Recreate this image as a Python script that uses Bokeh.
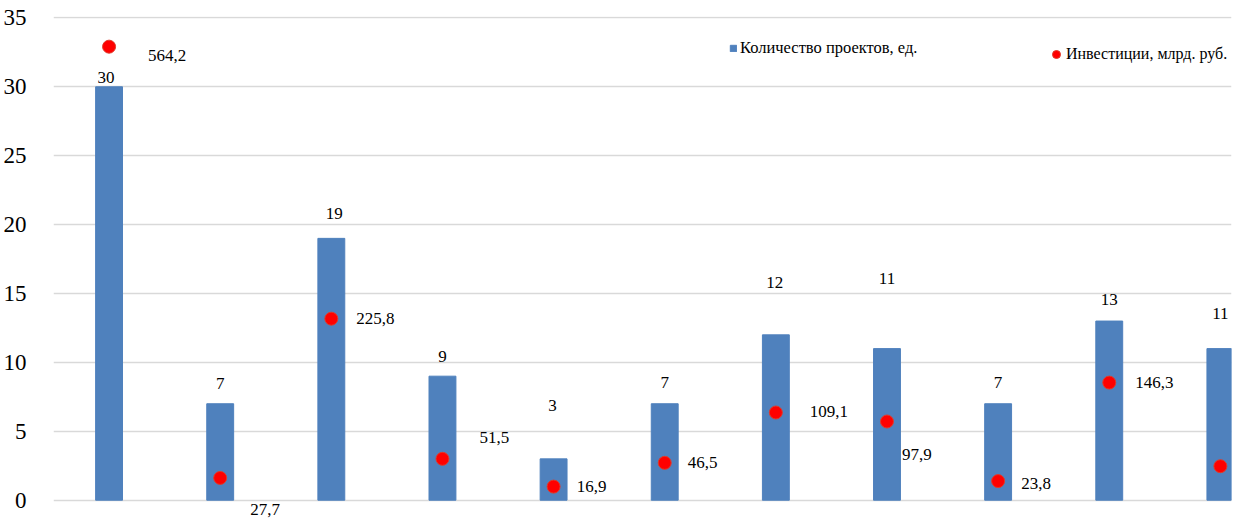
from bokeh.plotting import figure
from bokeh.models import (ColumnDataSource, Range1d, FixedTicker,
                          LabelSet, Legend, LegendItem)
from bokeh.embed import file_html
from bokeh.resources import INLINE

# ---- data ----
positions = list(range(11))
projects = [30, 7, 19, 9, 3, 7, 12, 11, 7, 13, 11]
investments = [564.2, 27.7, 225.8, 51.5, 16.9, 46.5, 109.1, 97.9, 23.8, 146.3, 42.3]
y_ticks = [0, 5, 10, 15, 20, 25, 30, 35]
series_names = ["Количество проектов, ед.", "Инвестиции, млрд. руб."]

# label placement (pixels), style only
bar_lbl_up = [9, 20, 25, 20, 53, 21, 52, 70, 21, 22, 35]
bar_lbl_dx = [-3, 0, 3, 0, -1, 0, -1, 0, 0, 0, 0]
inv_lbl_dx = [58, 45, 44, 52, 38, 38, 53, 30, 38, 45, 40]
inv_lbl_up = [-9, -32, 0, 21, 0, 0, 1, -33, -2, 0, 0]
inv_lbl_shown = [True] * 10 + [False]   # last label lies outside the cropped chart

FONT = "Liberation Serif"
BLUE = "#4f81bd"
RED = "#ff0000"
SCALE = 600.0 / 35.0

src = ColumnDataSource(dict(
    x=positions,
    projects=projects,
    inv=investments,
    ptxt=[str(v) for v in projects],
    itxt=[f"{v:.1f}".replace(".", ",") if s else "" for v, s in zip(investments, inv_lbl_shown)],
    bdx=bar_lbl_dx, bup=bar_lbl_up,
    idx=inv_lbl_dx, iup=inv_lbl_up,
))

y0, y1 = -1.4, 35.1
p = figure(width=1242, height=519, output_backend="svg", toolbar_location=None,
           x_range=Range1d(-0.5, 10.10), y_range=Range1d(y0, y1),
           frame_width=1178, frame_height=503,
           min_border_left=53, min_border_right=11, min_border_top=16,
           min_border_bottom=0, background_fill_color="white",
           border_fill_color="white", outline_line_color=None)
p.extra_y_ranges = {"inv": Range1d(y0 * SCALE, y1 * SCALE)}

p.xaxis.visible = False
p.xgrid.visible = False
p.yaxis.ticker = FixedTicker(ticks=y_ticks)
p.yaxis.axis_line_color = None
p.yaxis.major_tick_line_color = None
p.yaxis.minor_tick_line_color = None
p.yaxis.major_label_standoff = 21
p.yaxis.major_label_text_font = FONT
p.yaxis.major_label_text_font_size = "23px"
p.yaxis.major_label_text_color = "#000000"
p.ygrid.ticker = FixedTicker(ticks=y_ticks)
p.ygrid.grid_line_color = "#d9d9d9"
p.ygrid.grid_line_width = 1.6

bars = p.vbar(x="x", top="projects", width=0.242, bottom=0, source=src,
              fill_color=BLUE, line_color=BLUE)
dots = p.scatter(x="x", y="inv", y_range_name="inv", source=src, size=13,
                 fill_color=RED, line_color="#e03a2a", line_width=1)

p.add_layout(LabelSet(x="x", y="projects", text="ptxt", source=src,
                      x_offset="bdx", y_offset="bup",
                      text_align="center", text_baseline="middle",
                      text_font=FONT, text_font_size="17px", text_color="#000000"))
p.add_layout(LabelSet(x="x", y="inv", y_range_name="inv", text="itxt", source=src,
                      x_offset="idx", y_offset="iup",
                      text_align="center", text_baseline="middle",
                      text_font=FONT, text_font_size="17px", text_color="#000000"))

def mk_legend(item, loc, gw, gh, standoff, fs):
    lg = Legend(items=[item], location=loc, orientation="horizontal",
                glyph_width=gw, glyph_height=gh, label_standoff=standoff,
                padding=0, margin=0, spacing=0, border_line_color=None,
                background_fill_alpha=0, label_text_font=FONT,
                label_text_font_size=fs, label_text_color="#000000",
                label_height=16)
    return lg

p.add_layout(mk_legend(LegendItem(label=series_names[0], renderers=[bars]),
                       (676, 461), 8, 8, 3, "16.5px"))
p.add_layout(mk_legend(LegendItem(label=series_names[1], renderers=[dots]),
                       (993, 455), 20, 20, -11, "16px"))

open("out.html", "w").write(file_html(p, INLINE))
